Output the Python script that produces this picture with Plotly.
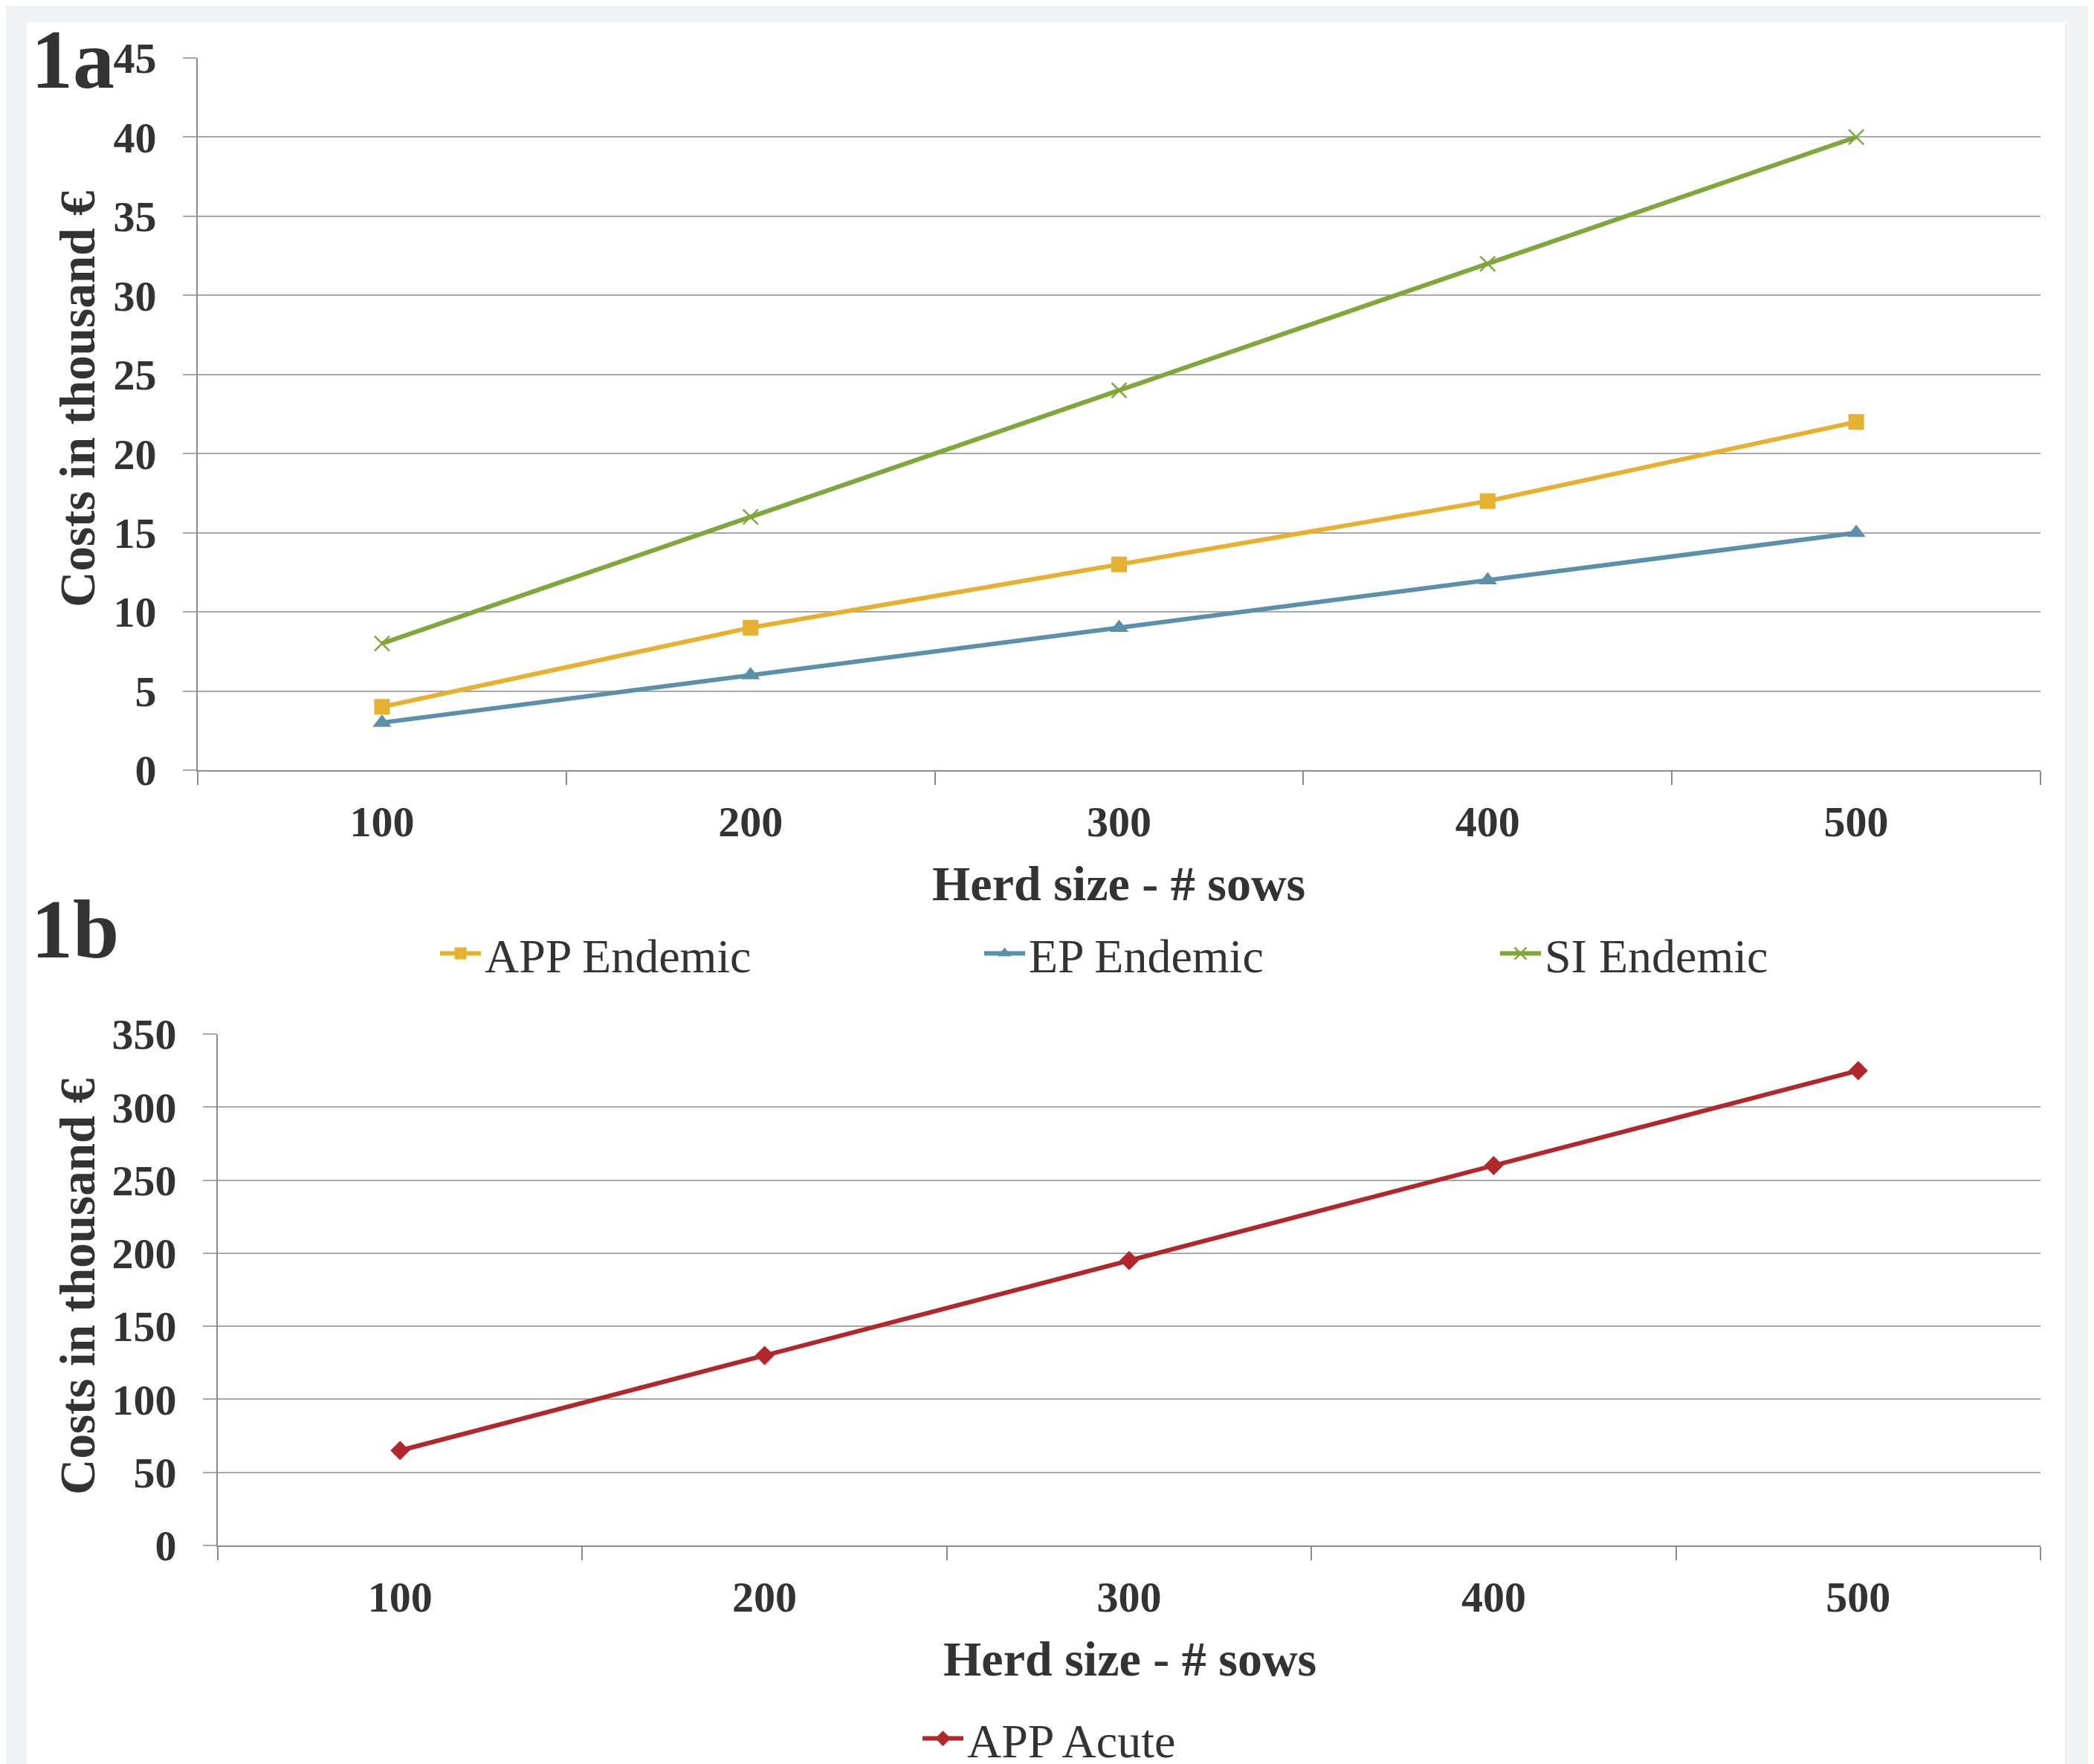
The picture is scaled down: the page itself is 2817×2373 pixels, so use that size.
import plotly.graph_objects as go

W, H = 2817, 2373
OFF = 8  # page body margin in the browser

herd_sizes = ["100", "200", "300", "400", "500"]
app_endemic = [4, 9, 13, 17, 22]
ep_endemic = [3, 6, 9, 12, 15]
si_endemic = [8, 16, 24, 32, 40]
app_acute = [65, 130, 195, 260, 325]

C_APP = "#E6B030"
C_EP = "#5B90AB"
C_SI = "#80A73B"
C_ACU = "#B0282E"
TXT = "#333333"
GRID = "#A8A8A8"
AXIS = "#8C8C8C"
SERIF = "Liberation Serif"


def px_x(v):
    return (v - OFF) / W


def px_y(v):
    return 1 - (v - OFF) / H


fig = go.Figure()

fig.add_trace(go.Scatter(x=herd_sizes, y=app_endemic, name="APP Endemic", mode="lines+markers",
                         line=dict(color=C_APP, width=6), marker=dict(symbol="square", size=21, color=C_APP),
                         xaxis="x", yaxis="y", legend="legend"))
fig.add_trace(go.Scatter(x=herd_sizes, y=ep_endemic, name="EP Endemic", mode="lines+markers",
                         line=dict(color=C_EP, width=6), marker=dict(symbol="triangle-up", size=22, color=C_EP),
                         xaxis="x", yaxis="y", legend="legend2"))
fig.add_trace(go.Scatter(x=herd_sizes, y=si_endemic, name="SI Endemic", mode="lines+markers",
                         line=dict(color=C_SI, width=6),
                         marker=dict(symbol="x-thin-open", size=20, color=C_SI, line=dict(color=C_SI, width=2.5)),
                         xaxis="x", yaxis="y", legend="legend3"))
fig.add_trace(go.Scatter(x=herd_sizes, y=app_acute, name="APP Acute", mode="lines+markers",
                         line=dict(color=C_ACU, width=6), marker=dict(symbol="diamond", size=20, color=C_ACU),
                         xaxis="x2", yaxis="y2", legend="legend4"))

tickfont = dict(family=SERIF, size=58, color=TXT, weight="bold")

xcommon = dict(type="category", categoryorder="array", categoryarray=herd_sizes, range=[-0.5, 4.5],
               tickson="boundaries", ticks="outside", ticklen=18, tickwidth=2, tickcolor=AXIS,
               showline=True, linecolor=AXIS, linewidth=2, showgrid=False, zeroline=False,
               tickfont=tickfont, ticklabelstandoff=17, automargin=False)
ycommon = dict(showgrid=True, gridcolor=GRID, gridwidth=2, ticks="outside", ticklen=18, tickwidth=2,
               tickcolor=GRID, showline=True, linecolor=AXIS, linewidth=2, zeroline=False,
               tickfont=tickfont, ticklabelstandoff=24, automargin=False)

fig.update_layout(
    xaxis=dict(domain=[px_x(266), px_x(2745)], anchor="y", **xcommon),
    yaxis=dict(domain=[px_y(1036), px_y(78)], anchor="x", range=[0, 45], dtick=5, **ycommon),
    xaxis2=dict(domain=[px_x(293), px_x(2745)], anchor="y2", **xcommon),
    yaxis2=dict(domain=[px_y(2079), px_y(1391)], anchor="x2", range=[0, 350], dtick=50, **ycommon),
)

legfont = dict(family=SERIF, size=64, color=TXT)
leg_common = dict(orientation="h", xanchor="left", yanchor="middle", xref="container", yref="container",
                  bgcolor="rgba(0,0,0,0)", borderwidth=0, font=legfont, visible=True, itemwidth=55)
fig.update_layout(
    showlegend=True,
    legend=dict(x=px_x(587), y=px_y(1283), **leg_common),
    legend2=dict(x=px_x(1319), y=px_y(1283), **leg_common),
    legend3=dict(x=px_x(2013), y=px_y(1283), **leg_common),
    legend4=dict(x=px_x(1236), y=px_y(2339), **leg_common),
)

bold = dict(family=SERIF, color=TXT, weight="bold")
annotations = [
    dict(text="1a", x=px_x(40), y=px_y(80), xanchor="left", yanchor="middle",
         font=dict(size=112, **bold)),
    dict(text="1b", x=px_x(40), y=px_y(1250), xanchor="left", yanchor="middle",
         font=dict(size=112, **bold)),
    dict(text="Costs in thousand €", textangle=-90, x=px_x(104), y=px_y(537), xanchor="center",
         yanchor="middle", font=dict(size=67, **bold)),
    dict(text="Costs in thousand €", textangle=-90, x=px_x(104), y=px_y(1731), xanchor="center",
         yanchor="middle", font=dict(size=67, **bold)),
    dict(text="Herd size - # sows", x=px_x(1505), y=px_y(1188), xanchor="center", yanchor="middle",
         font=dict(size=66, **bold)),
    dict(text="Herd size - # sows", x=px_x(1520), y=px_y(2231), xanchor="center", yanchor="middle",
         font=dict(size=66, **bold)),
]
for a in annotations:
    a.update(xref="paper", yref="paper", showarrow=False)

fig.update_layout(
    width=W, height=H, autosize=False,
    margin=dict(l=0, r=0, t=0, b=0, pad=0, autoexpand=False),
    paper_bgcolor="#F2F3F5",
    plot_bgcolor="rgba(0,0,0,0)",
    annotations=annotations,
    shapes=[dict(type="rect", xref="paper", yref="paper", x0=px_x(36), x1=px_x(2777), y0=0, y1=px_y(30),
                 fillcolor="white", line=dict(width=0), layer="below")],
    font=dict(family=SERIF, color=TXT),
)

fig.write_html("out.html")
